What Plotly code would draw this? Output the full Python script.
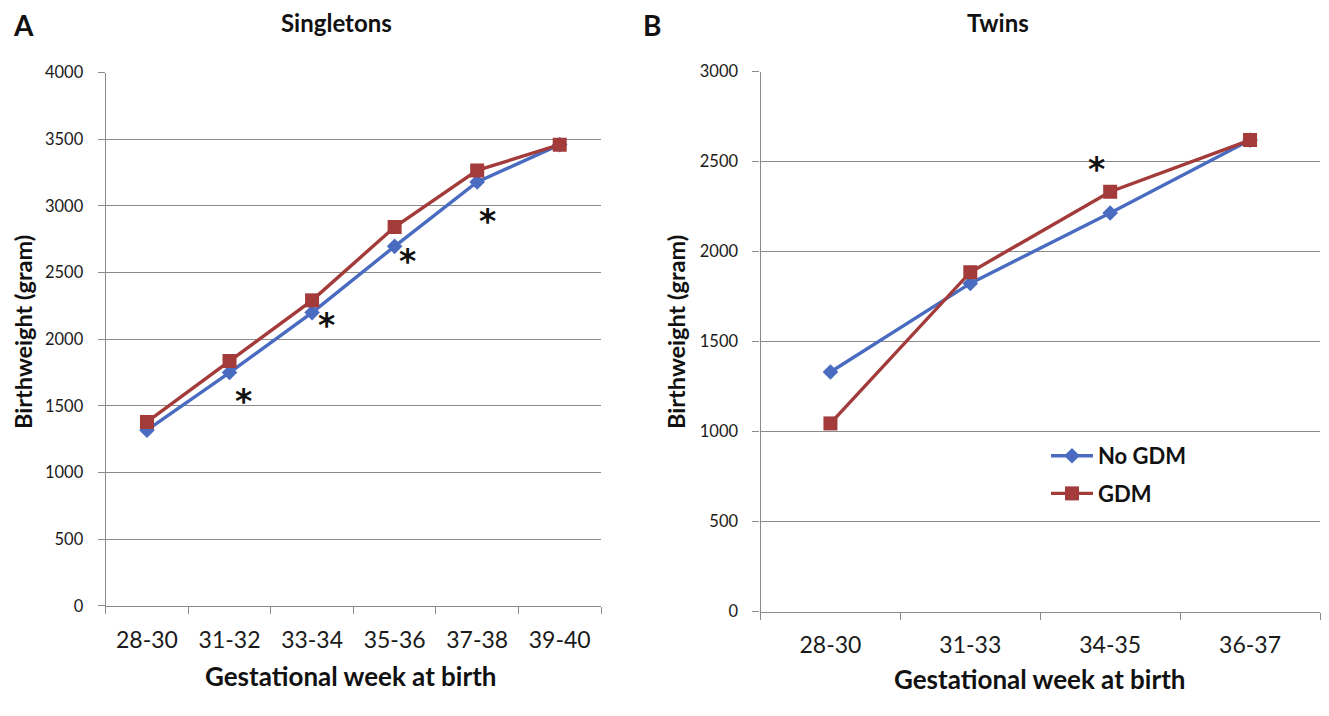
import plotly.graph_objects as go

# ---- data ----
single_cats = ["28-30", "31-32", "33-34", "35-36", "37-38", "39-40"]
single_no_gdm = [1318, 1750, 2200, 2697, 3180, 3460]
single_gdm = [1380, 1837, 2292, 2842, 3267, 3460]

twin_cats = ["28-30", "31-33", "34-35", "36-37"]
twin_no_gdm = [1332, 1824, 2215, 2620]
twin_gdm = [1046, 1886, 2333, 2620]

# significance markers: (category index offset, y position)
single_star_x = [1.17, 2.18, 3.15, 4.13]
single_star_y = [1535, 2106, 2580, 2880]
twin_star_x = [1.90]
twin_star_y = [2455]

BLUE = "#4a6cc0"
RED = "#a33b3b"
GRID = "#8a8a8a"
FONT = "Lato"

# page body has an 8px margin; size the figure so it fits the 1329x716 window
OFF = 8
W, H = 1329 - 2 * OFF, 716 - 2 * OFF


def px_x(p):
    return (p - OFF) / W


def px_y(p):
    return 1 - (p - OFF) / H


fig = go.Figure()

fig.add_trace(go.Scatter(x=single_cats, y=single_no_gdm, mode="lines+markers", name="No GDM",
                         line=dict(color=BLUE, width=3.4),
                         marker=dict(symbol="diamond", size=12, color=BLUE),
                         xaxis="x", yaxis="y", showlegend=False))
fig.add_trace(go.Scatter(x=single_cats, y=single_gdm, mode="lines+markers", name="GDM",
                         line=dict(color=RED, width=3.4),
                         marker=dict(symbol="square", size=14, color=RED),
                         xaxis="x", yaxis="y", showlegend=False))
fig.add_trace(go.Scatter(x=twin_cats, y=twin_no_gdm, mode="lines+markers", name="No GDM",
                         legendgroup="nogdm",
                         line=dict(color=BLUE, width=3.4),
                         marker=dict(symbol="diamond", size=12, color=BLUE),
                         xaxis="x2", yaxis="y2"))
fig.add_trace(go.Scatter(x=twin_cats, y=twin_gdm, mode="lines+markers", name="GDM",
                         legendgroup="gdm",
                         line=dict(color=RED, width=3.4),
                         marker=dict(symbol="square", size=14, color=RED),
                         xaxis="x2", yaxis="y2"))

xcommon = dict(type="category", tickson="boundaries", ticks="outside", ticklen=7,
               tickcolor=GRID, showline=True, linecolor=GRID, linewidth=1.3,
               showgrid=False, zeroline=False, automargin=False,
               tickfont=dict(family=FONT, size=23, color="#1a1a1a"),
               ticklabelstandoff=13, fixedrange=True)
ycommon = dict(ticks="outside", ticklen=7, tickcolor=GRID, showline=True, linecolor=GRID,
               linewidth=1.3, showgrid=True, gridcolor=GRID, gridwidth=1.3, zeroline=False,
               automargin=False,
               tickfont=dict(family=FONT, size=16.5, color="#1a1a1a"), ticklabelstandoff=11,
               fixedrange=True)

fig.update_layout(
    width=W, height=H,
    margin=dict(l=0, r=0, t=0, b=0, autoexpand=False),
    paper_bgcolor="white", plot_bgcolor="white",
    font=dict(family=FONT, color="#111"),
    xaxis=dict(domain=[px_x(105.7), px_x(601)], range=[-0.5, 5.5], anchor="y", **xcommon),
    yaxis=dict(domain=[px_y(605.8), px_y(72.7)], range=[0, 4000], dtick=500, anchor="x", **ycommon),
    xaxis2=dict(domain=[px_x(760.5), px_x(1320)], range=[-0.5, 3.5], anchor="y2", **xcommon),
    yaxis2=dict(domain=[px_y(611.7), px_y(71.7)], range=[0, 3000], dtick=500, anchor="x2", **ycommon),
    legend=dict(x=px_x(1046), y=px_y(435), xanchor="left", yanchor="top",
                bgcolor="rgba(0,0,0,0)", font=dict(family=FONT, size=22, color="#111", weight="bold"),
                itemwidth=42, tracegroupgap=6),
    showlegend=True,
)

ann = []
for sx, sy in zip(single_star_x, single_star_y):
    ann.append(dict(x=sx, y=sy, xref="x", yref="y", text="*", showarrow=False,
                    font=dict(family="DejaVu Sans", size=33, color="#111", weight="bold"),
                    yanchor="middle"))
for sx, sy in zip(twin_star_x, twin_star_y):
    ann.append(dict(x=sx, y=sy, xref="x2", yref="y2", text="*", showarrow=False,
                    font=dict(family="DejaVu Sans", size=33, color="#111", weight="bold"),
                    yanchor="middle"))


def text_ann(x, y, text, size, angle=0):
    return dict(x=px_x(x), y=px_y(y), xref="paper", yref="paper", text=text, showarrow=False,
                xanchor="center", yanchor="middle", textangle=angle,
                font=dict(family=FONT, size=size, color="#111", weight="bold"))


ann += [
    text_ann(23, 25, "A", 28),
    text_ann(652, 25, "B", 28),
    text_ann(337, 22, "Singletons", 24),
    text_ann(998, 22, "Twins", 24),
    text_ann(23, 332, "Birthweight (gram)", 23.5, -90),
    text_ann(676, 332, "Birthweight (gram)", 23.5, -90),
    text_ann(351, 676, "Gestational week at birth", 26),
    text_ann(1040, 679, "Gestational week at birth", 26),
]
fig.update_layout(annotations=ann)

fig.write_html("out.html")
